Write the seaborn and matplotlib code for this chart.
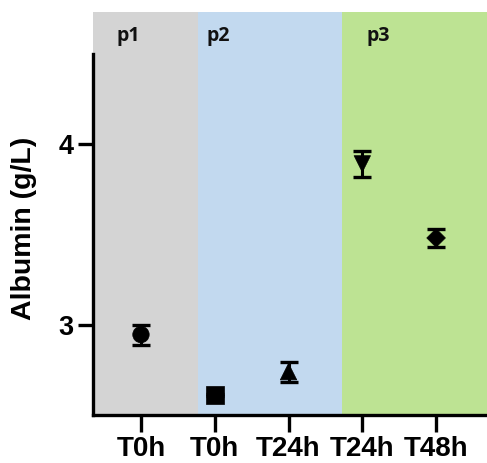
import matplotlib
matplotlib.use("Agg")
import matplotlib.pyplot as plt
import seaborn as sns
import pandas as pd

groups = ["p1 T0h", "p2 T0h", "p2 T24h", "p3 T24h", "p3 T48h"]
tick_labels = ["T0h", "T0h", "T24h", "T24h", "T48h"]
means = [2.945, 2.61, 2.74, 3.89, 3.48]
errors = [0.055, 0.005, 0.055, 0.07, 0.05]
markers = ["o", "s", "^", "v", "D"]
marker_sizes = [140, 160, 140, 140, 90]
panels = ["p1", "p2", "p3"]
panel_colors = ["#d4d4d4", "#c2d9ef", "#bde393"]
panel_edges = [-0.65, 0.77, 2.72, 4.69]

sns.set_theme(style="ticks")
plt.rcParams['font.family'] = ['Liberation Sans', 'DejaVu Sans']
plt.rcParams['text.color'] = 'black'
plt.rcParams['axes.labelcolor'] = 'black'
plt.rcParams['xtick.color'] = 'black'
plt.rcParams['ytick.color'] = 'black'
plt.rcParams['axes.edgecolor'] = 'black'

df = pd.DataFrame({"pos": list(range(len(groups))), "mean": means, "group": groups})

fig = plt.figure(figsize=(4.87, 4.63), dpi=100)
ax = fig.add_axes([0.191, 0.1037, 0.809, 0.870])

for i, (name, col) in enumerate(zip(panels, panel_colors)):
    ax.axvspan(panel_edges[i], panel_edges[i + 1], color=col, lw=0, zorder=0)

ax.errorbar(df["pos"], df["mean"], yerr=errors, fmt="none", ecolor="black",
            elinewidth=2.2, capsize=6.2, capthick=2.4, zorder=3)
sns.scatterplot(data=df, x="pos", y="mean", style="group", size="group",
                markers=dict(zip(groups, markers)),
                sizes=dict(zip(groups, marker_sizes)), color="black",
                edgecolor="black", linewidth=0.5, legend=False, ax=ax, zorder=4)

text_x = [-0.33, 0.89, 3.06]
for name, tx in zip(panels, text_x):
    ax.text(tx, 4.60, name, fontsize=14, fontweight="bold", family=["Open Sans", "DejaVu Sans"],
            ha="left", va="center", color="#111111")

ax.set_xlim(panel_edges[0], panel_edges[-1])
ax.set_ylim(2.5, 4.73)
ax.set_xticks(range(len(groups)))
ax.set_xticklabels(tick_labels, fontsize=20, fontweight="bold")
ax.set_yticks([3, 4])
ax.set_yticklabels(["3", "4"], fontsize=19.5, fontweight="bold")
ax.set_xlabel("")
ax.set_ylabel("Albumin (g/L)", fontsize=20.5, fontweight="bold")
ax.yaxis.set_label_coords(-0.142, 0.464)

for s in ["top", "right"]:
    ax.spines[s].set_visible(False)
ax.spines["left"].set_bounds(2.5, 4.5)
ax.spines["left"].set_linewidth(2.4)
ax.spines["bottom"].set_linewidth(2.4)
ax.tick_params(axis="both", width=2.4, length=11, color="black", labelcolor="black", pad=3)
ax.tick_params(axis="x", length=12)

fig.savefig("out.png", dpi=100)
